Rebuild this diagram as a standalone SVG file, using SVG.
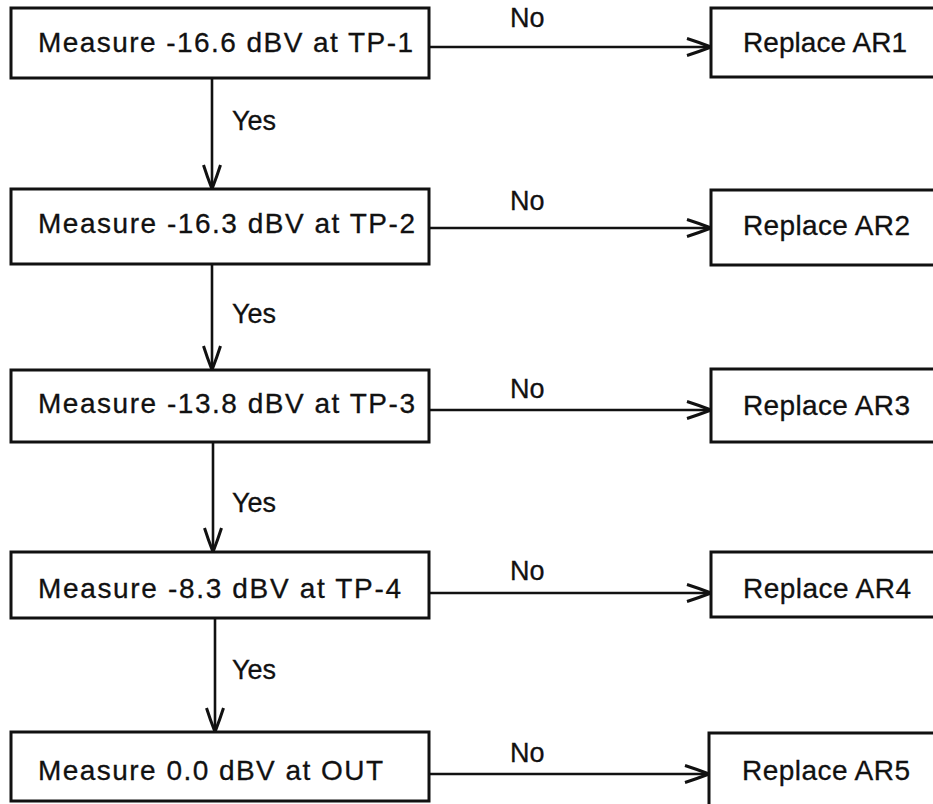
<svg xmlns="http://www.w3.org/2000/svg" width="933" height="804" viewBox="0 0 933 804">
<defs>
<style>
.box{fill:#fff;stroke:#111;stroke-width:3}
.t{font-family:"Liberation Sans",Arial,sans-serif;font-size:28px;fill:#111;stroke:#111;stroke-width:0.3}
.lbl{font-family:"Liberation Sans",Arial,sans-serif;font-size:27px;fill:#111;stroke:#111;stroke-width:0.3}
.c{fill:none;stroke:#111;stroke-width:2.6;marker-end:url(#arr)}
</style>
<marker id="arr" viewBox="0 0 26 20" refX="25" refY="10" markerWidth="26" markerHeight="20" markerUnits="userSpaceOnUse" orient="auto" overflow="visible">
<path d="M1,1.5 Q12,5 25,10 Q12,15 1,18.5" fill="none" stroke="#111" stroke-width="3" stroke-linejoin="miter"/>
</marker>
</defs>
<rect width="933" height="804" fill="#fff"/>
<g id="connectors">
<line class="c" x1="212" y1="78" x2="212" y2="189"/>
<line class="c" x1="212" y1="264" x2="212" y2="370"/>
<line class="c" x1="213" y1="442" x2="213" y2="552"/>
<line class="c" x1="215" y1="618" x2="215" y2="732"/>
<line class="c" x1="429" y1="47" x2="711" y2="47"/>
<line class="c" x1="429" y1="228" x2="711" y2="228"/>
<line class="c" x1="429" y1="410" x2="711" y2="410"/>
<line class="c" x1="429" y1="593" x2="711" y2="593"/>
<line class="c" x1="429" y1="774" x2="709" y2="774"/>
<text class="lbl" x="232" y="130">Yes</text>
<text class="lbl" x="232" y="323">Yes</text>
<text class="lbl" x="232" y="512">Yes</text>
<text class="lbl" x="232" y="679">Yes</text>
<text class="lbl" x="510" y="27">No</text>
<text class="lbl" x="510" y="210">No</text>
<text class="lbl" x="510" y="398">No</text>
<text class="lbl" x="510" y="580">No</text>
<text class="lbl" x="510" y="762">No</text>
</g>
<g id="m1"><rect class="box" x="11" y="8" width="418" height="70"/><text class="t" x="38" y="52" textLength="375" lengthAdjust="spacing">Measure -16.6 dBV at TP-1</text></g>
<g id="m2"><rect class="box" x="11" y="189" width="418" height="75"/><text class="t" x="38" y="233" textLength="377" lengthAdjust="spacing">Measure -16.3 dBV at TP-2</text></g>
<g id="m3"><rect class="box" x="11" y="370" width="418" height="72"/><text class="t" x="38" y="413" textLength="377" lengthAdjust="spacing">Measure -13.8 dBV at TP-3</text></g>
<g id="m4"><rect class="box" x="11" y="552" width="418" height="66"/><text class="t" x="38" y="598" textLength="363" lengthAdjust="spacing">Measure -8.3 dBV at TP-4</text></g>
<g id="m5"><rect class="box" x="11" y="732" width="418" height="69"/><text class="t" x="38" y="780" textLength="345" lengthAdjust="spacing">Measure 0.0 dBV at OUT</text></g>
<g id="r1"><rect class="box" x="711" y="8" width="240" height="69"/><text class="t" x="743" y="52" textLength="164" lengthAdjust="spacing">Replace AR1</text></g>
<g id="r2"><rect class="box" x="711" y="190" width="240" height="75"/><text class="t" x="743" y="235" textLength="167" lengthAdjust="spacing">Replace AR2</text></g>
<g id="r3"><rect class="box" x="711" y="369" width="240" height="73"/><text class="t" x="743" y="415" textLength="167" lengthAdjust="spacing">Replace AR3</text></g>
<g id="r4"><rect class="box" x="711" y="552" width="240" height="65"/><text class="t" x="743" y="598" textLength="168" lengthAdjust="spacing">Replace AR4</text></g>
<g id="r5"><rect class="box" x="709" y="733" width="240" height="80"/><text class="t" x="742" y="780" textLength="168" lengthAdjust="spacing">Replace AR5</text></g>
</svg>
